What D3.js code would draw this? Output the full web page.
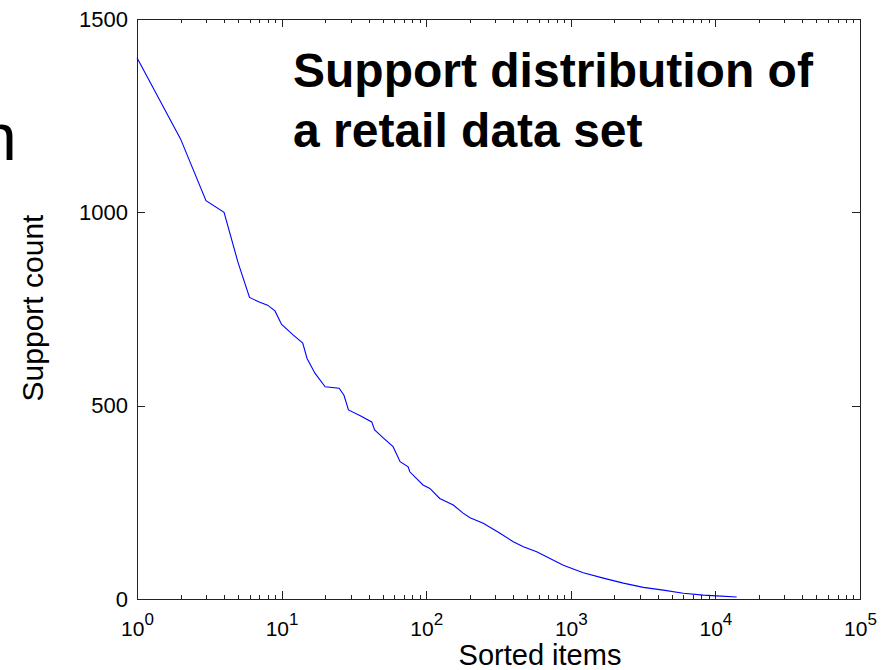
<!DOCTYPE html>
<html>
<head>
<meta charset="utf-8">
<script src="https://cdn.jsdelivr.net/npm/d3@7"></script>
<style>
  body { margin: 0; background: #fff; }
  svg { font-family: "Liberation Sans", Arial, sans-serif; }
  .axis path, .axis line { stroke: #222; shape-rendering: crispEdges; }
  .axis text { fill: #000; }
</style>
</head>
<body>
<div class="chart"></div>
<script>
// sorted item rank and its support count
var rank = [1, 2, 3, 4, 5, 6, 7, 8, 9, 10, 11, 12, 13, 14, 15, 17, 20, 25, 27, 29,
  35, 42, 44, 50, 59, 62, 66, 75, 77, 95, 106, 124, 154, 180, 201, 248, 324, 400,
  470, 581, 718, 888, 1220, 1678, 2307, 3172, 4362, 5998, 8245, 10200, 14030];
var support = [1400, 1190, 1030, 1000, 870, 780, 768, 760, 745, 710, 696, 683, 672,
  662, 622, 584, 549, 545, 527, 489, 474, 458, 437, 418, 394, 377, 355, 342, 329,
  295, 286, 260, 243, 222, 210, 196, 170, 148, 135, 122, 105, 87, 68, 54, 41, 30,
  23, 15, 10, 8, 5];

var yTicks = [0, 500, 1000, 1500];
var xDecades = [0, 1, 2, 3, 4, 5];
var titleLines = ["Support distribution of", "a retail data set"];

var data = rank.map(function (r, i) { return {rank: r, value: support[i]}; });

var margin = {top: 19, right: 23, bottom: 71, left: 137},
    width = 883 - margin.left - margin.right,
    height = 670 - margin.top - margin.bottom;

var x = d3.scaleLog()
  .domain([1, 1e5])
  .range([0, width]);

var y = d3.scaleLinear()
  .domain([0, 1500])
  .range([height, 0]);

var majors = xDecades.map(function (e) { return Math.pow(10, e); });
var minors = [];
xDecades.slice(0, -1).forEach(function (e) {
  for (var k = 2; k < 10; k++) minors.push(k * Math.pow(10, e));
});

var root = d3.select(".chart").append("svg")
    .attr("width", 883)
    .attr("height", 670);

// stray letter from the slide behind the chart
root.append("text")
  .attr("x", -20)
  .attr("y", 160)
  .style("font-size", "66px")
  .text("n");

var svg = root.append("g")
    .attr("transform", "translate(" + margin.left + "," + margin.top + ")");

// minor ticks, bottom and top
svg.append("g")
  .attr("class", "axis")
  .attr("transform", "translate(0," + height + ")")
  .call(d3.axisBottom(x).tickValues(minors).tickSize(-4).tickSizeOuter(0).tickFormat(""));
svg.append("g")
  .attr("class", "axis")
  .call(d3.axisTop(x).tickValues(minors).tickSize(-4).tickSizeOuter(0).tickFormat(""));

// major ticks, bottom with 10^n labels
var xAxis = svg.append("g")
  .attr("class", "x axis")
  .attr("transform", "translate(0," + height + ")")
  .call(d3.axisBottom(x).tickValues(majors).tickSize(-8).tickSizeOuter(0).tickFormat(""));

xAxis.selectAll(".tick").append("text")
  .attr("y", 37)
  .style("text-anchor", "middle")
  .style("font-size", "21px")
  .each(function (d) {
    var t = d3.select(this);
    t.append("tspan").text("10");
    t.append("tspan")
      .attr("dy", -11)
      .style("font-size", "17px")
      .text(Math.round(Math.log10(d)));
  });

svg.append("g")
  .attr("class", "axis")
  .call(d3.axisTop(x).tickValues(majors).tickSize(-8).tickSizeOuter(0).tickFormat(""));

var yAxis = svg.append("g")
  .attr("class", "y axis")
  .call(d3.axisLeft(y).tickValues(yTicks).tickSize(-8).tickSizeOuter(0)
    .tickPadding(9).tickFormat(d3.format("d")));
yAxis.selectAll("text").style("font-size", "22px");

svg.append("g")
  .attr("class", "axis")
  .attr("transform", "translate(" + width + ",0)")
  .call(d3.axisRight(y).tickValues(yTicks).tickSize(-8).tickSizeOuter(0).tickFormat(""));

svg.append("rect")
  .attr("width", width)
  .attr("height", height)
  .attr("fill", "none")
  .attr("stroke", "#222")
  .style("shape-rendering", "crispEdges");

var line = d3.line()
  .x(function (d) { return x(d.rank); })
  .y(function (d) { return y(d.value); });

svg.append("path")
  .datum(data)
  .attr("fill", "none")
  .attr("stroke", "#0000ff")
  .attr("stroke-width", 1.1)
  .attr("d", line);

// axis labels
root.append("text")
  .attr("x", 540)
  .attr("y", 665)
  .style("text-anchor", "middle")
  .style("font-size", "29px")
  .text("Sorted items");

root.append("text")
  .attr("transform", "translate(43,308) rotate(-90)")
  .style("text-anchor", "middle")
  .style("font-size", "30px")
  .text("Support count");

// title inside the plot
root.append("text")
  .style("font-size", "48px")
  .style("font-weight", "bold")
  .selectAll("tspan")
  .data(titleLines)
  .enter().append("tspan")
    .attr("x", 293)
    .attr("y", function (d, i) { return 87 + i * 60; })
    .text(function (d) { return d; });
</script>
</body>
</html>
